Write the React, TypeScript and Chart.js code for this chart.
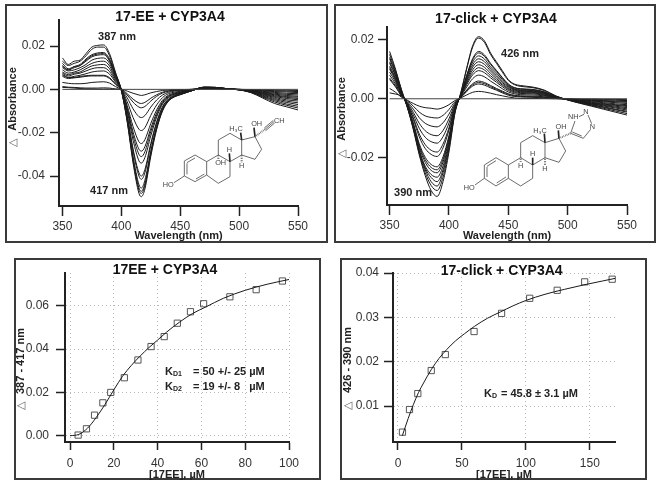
import React, { useEffect, useRef } from "react";
import { Chart, registerables } from "chart.js";

Chart.register(...registerables);

const FONT = "'Liberation Sans', Arial, sans-serif";
const DARK = "#222222";

// ---- Data: difference spectra, absorbance in thousandths ----
const eeWavelengths = [350, 355, 360, 365, 370, 375, 380, 385, 390, 395, 400, 405, 410, 415, 417, 420, 425, 430, 435, 440, 445, 450, 460, 470, 480, 490, 500, 510, 520, 530, 540, 550];
const eeSpectra = [
  [14.5, 11.5, 13, 13.5, 16.5, 19.5, 20.3, 20.5, 16.5, 8, -0.5, -15, -34, -48, -49.5, -46, -31, -18.5, -10, -5.5, -3.5, -2.5, -0.6, 1, 0.9, 0.3, -0.2, -1.5, -4, -6.5, -8, -9.5],
  [13, 11, 12, 13, 15.5, 18.5, 19.5, 19.5, 15.5, 7.5, -0.4, -14.5, -33, -46.5, -48, -44.5, -30, -18, -9.6, -5.3, -3.4, -2.4, -0.6, 1, 0.9, 0.3, -0.2, -1.4, -3.6, -5.8, -7.3, -8.6],
  [12, 9.5, 10.5, 11.5, 14, 16, 16.8, 17, 14, 7, -0.3, -14, -32, -45.5, -47, -43.5, -29.5, -17.5, -9.4, -5.2, -3.3, -2.3, -0.6, 1, 0.9, 0.3, -0.2, -1.3, -3.3, -5.2, -6.7, -7.8],
  [11, 9, 10.5, 11, 13.5, 15.5, 16.3, 16.5, 13.5, 6.8, -0.3, -13.5, -31, -44, -45.5, -42, -28.5, -17, -9, -5, -3.2, -2.2, -0.6, 0.9, 0.9, 0.3, -0.2, -1.2, -3, -4.7, -6, -7],
  [10.5, 9, 10, 11, 13, 15, 15.8, 16, 13, 6.4, -0.2, -12.5, -28.5, -40, -41.5, -38.5, -26, -15.5, -8.3, -4.6, -3, -2, -0.5, 0.9, 0.8, 0.3, -0.2, -1.1, -2.7, -4.2, -5.4, -6.2],
  [10, 8.5, 9, 10, 11.5, 13.5, 14.3, 14.5, 12, 5.8, -0.2, -12, -27.5, -38.5, -40, -37, -25, -15, -8, -4.4, -2.8, -1.9, -0.5, 0.9, 0.8, 0.2, -0.2, -1, -2.4, -3.7, -4.8, -5.4],
  [9, 7.5, 8, 9, 10.5, 12, 12.8, 13, 10.8, 5.2, -0.1, -10.2, -23.5, -33, -34, -31.5, -21.5, -12.8, -6.8, -3.8, -2.4, -1.7, -0.4, 0.8, 0.8, 0.2, -0.1, -0.9, -2.1, -3.3, -4.2, -4.8],
  [8, 6.8, 7.5, 8, 9.5, 10.8, 11.3, 11.5, 9.5, 4.6, -0.1, -9.3, -21.4, -30, -31, -28.8, -19.5, -11.8, -6.2, -3.4, -2.2, -1.5, -0.4, 0.7, 0.7, 0.2, -0.1, -0.8, -1.9, -2.9, -3.7, -4.2],
  [7.5, 6.2, 7, 7.5, 8.5, 9.5, 10, 10, 8.2, 4, 0, -8.5, -19.7, -27.6, -28.5, -26.5, -18, -10.8, -5.7, -3.1, -2, -1.4, -0.3, 0.7, 0.7, 0.2, -0.1, -0.7, -1.7, -2.5, -3.3, -3.6],
  [7, 5.5, 6, 6.5, 7.2, 8, 8.4, 8.5, 7, 3.4, 0, -7.5, -17.2, -24.2, -25, -23.2, -15.8, -9.5, -5, -2.7, -1.7, -1.2, -0.3, 0.7, 0.6, 0.2, -0.1, -0.6, -1.4, -2.2, -2.8, -3.2],
  [6.5, 5.5, 5.5, 6, 6.3, 6.5, 6.5, 6.5, 5.4, 2.6, 0, -5.7, -13, -18.4, -19, -17.7, -12, -7.2, -3.8, -2, -1.3, -0.9, -0.2, 0.6, 0.6, 0.2, -0.1, -0.5, -1.2, -1.8, -2.3, -2.6],
  [6, 5, 5.3, 5.6, 6, 6.2, 6.2, 6.2, 5, 2.4, 0, -3.9, -9, -12.6, -13, -12.1, -8.2, -4.9, -2.6, -1.4, -0.8, -0.6, -0.1, 0.5, 0.5, 0.1, 0, -0.4, -0.9, -1.4, -1.8, -2],
  [3.2, 2.8, 2.6, 2.6, 2.8, 3.2, 3.4, 3.5, 2.9, 1.3, 0, -2.6, -5.9, -8.2, -8.5, -7.9, -5.4, -3.2, -1.7, -0.9, -0.5, -0.3, 0, 0.4, 0.4, 0.1, 0, -0.3, -0.7, -1, -1.2, -1.5],
  [1.3, 1, 0.9, 0.7, 0.6, 0.6, 0.6, 0.7, 0.6, 0.2, 0, -2, -4.5, -6.3, -6.5, -6, -4.1, -2.5, -1.3, -0.7, -0.4, -0.2, 0, 0.3, 0.3, 0.1, 0, -0.2, -0.4, -0.6, -0.8, -1],
  [0.9, 0.8, 0.6, 0.4, 0.2, 0.2, 0.1, 0.1, 0.1, 0, 0, -0.8, -1.8, -2.6, -2.8, -2.5, -1.6, -1, -0.5, -0.3, -0.1, -0.1, 0, 0.2, 0.2, 0, 0, -0.1, -0.2, -0.3, -0.4, -0.5],
];

const clickWavelengths = [350, 355, 360, 365, 370, 375, 380, 385, 390, 395, 400, 405, 410, 415, 420, 425, 430, 435, 440, 445, 450, 455, 460, 470, 480, 490, 500, 510, 520, 530, 540, 550];
const clickSpectra = [
  [16, 10, 3, -3, -10.5, -19, -26, -31, -33, -28, -18, -5, 2, 10.5, 18, 21, 19.5, 15.5, 12.5, 9.5, 6.5, 5, 4.5, 4, 3, 1, -0.4, -1.5, -2.5, -3.5, -4.5, -5.5],
  [15, 9.5, 3, -3, -10, -18.5, -25, -29.3, -31, -26.5, -17, -4.7, 2, 10.2, 17.5, 20.5, 19, 15, 12, 9, 6.2, 4.8, 4.2, 3.8, 2.8, 0.9, -0.4, -1.4, -2.3, -3.2, -4.1, -5],
  [14, 9, 2.6, -2.8, -9.8, -18, -24, -28, -29.5, -25, -16, -4.4, 1.6, 8, 13.6, 16, 14.8, 12, 9.6, 7.2, 5, 3.8, 3.4, 3.2, 2.4, 0.8, -0.3, -1.3, -2.1, -2.9, -3.7, -4.5],
  [13.5, 8.6, 2.4, -2.7, -9.5, -17.5, -23.4, -26.6, -28, -24, -15.2, -4.2, 1.5, 7.8, 13.2, 15.5, 14.3, 11.6, 9.3, 7, 4.8, 3.7, 3.3, 3, 2.3, 0.7, -0.3, -1.2, -2, -2.7, -3.5, -4.2],
  [12.5, 8, 2.2, -2.6, -9.5, -17.5, -22.8, -25.6, -26.5, -22.7, -14.4, -4, 1.4, 7.3, 12.4, 14.5, 13.4, 10.8, 8.7, 6.5, 4.5, 3.4, 3, 2.8, 2.1, 0.7, -0.3, -1.1, -1.8, -2.4, -3.1, -3.8],
  [12, 7.6, 2.1, -2.5, -9, -16.5, -21.5, -24.2, -25, -21.4, -13.6, -3.8, 1.3, 6.8, 11.5, 13.5, 12.5, 10.1, 8, 6, 4.2, 3.2, 2.8, 2.6, 2, 0.6, -0.3, -1, -1.7, -2.2, -2.8, -3.4],
  [11, 7, 2, -2.4, -8.6, -15.9, -20.6, -23.2, -24, -20.5, -13, -3.6, 1.2, 6.3, 10.7, 12.5, 11.6, 9.4, 7.4, 5.5, 3.9, 3, 2.6, 2.4, 1.8, 0.5, -0.2, -0.9, -1.5, -2, -2.5, -3],
  [10.5, 6.7, 1.8, -2.3, -8.2, -15.2, -19.8, -22.2, -23, -19.6, -12.5, -3.5, 1.1, 5.8, 9.8, 11.5, 10.6, 8.6, 6.8, 5, 3.5, 2.7, 2.4, 2.2, 1.6, 0.5, -0.2, -0.8, -1.4, -1.8, -2.2, -2.6],
  [10, 6.3, 1.7, -2, -7, -12.9, -16.8, -18.8, -19.5, -16.6, -10.6, -3, 1, 5.3, 8.9, 10.5, 9.7, 7.8, 6.2, 4.6, 3.2, 2.4, 2.1, 2, 1.4, 0.4, -0.2, -0.7, -1.2, -1.6, -2, -2.3],
  [9, 5.7, 1.5, -1.9, -6.5, -11.9, -15.5, -17.4, -18, -15.3, -9.8, -2.8, 0.9, 4.8, 8.1, 9.5, 8.8, 7.1, 5.6, 4.1, 2.8, 2.1, 1.8, 1.7, 1.2, 0.4, -0.2, -0.6, -1, -1.3, -1.7, -2],
  [8, 5, 1.3, -1.6, -5.5, -10, -13, -14.5, -15, -12.8, -8.2, -2.3, 0.8, 4, 6.8, 8, 7.4, 6, 4.7, 3.4, 2.3, 1.7, 1.4, 1.3, 1, 0.3, -0.1, -0.5, -0.8, -1, -1.3, -1.6],
  [7, 4.4, 1.1, -1.3, -4.6, -8.3, -10.8, -12.1, -12.5, -10.7, -6.8, -1.9, 0.6, 3, 5.1, 6, 5.5, 4.5, 3.5, 2.6, 1.7, 1.2, 1, 0.9, 0.7, 0.2, -0.1, -0.4, -0.6, -0.8, -1, -1.2],
  [6.5, 4, 0.9, -1, -3.5, -6.4, -8.3, -9.2, -9.5, -8.1, -5.2, -1.5, 0.5, 2.8, 4.7, 5.5, 5.1, 4.1, 3.2, 2.3, 1.5, 1, 0.8, 0.7, 0.5, 0.1, -0.1, -0.3, -0.5, -0.6, -0.8, -0.9],
  [3.5, 2.2, 0.5, -0.7, -2.5, -4.5, -5.8, -6.3, -6.5, -5.6, -3.6, -1, 0.4, 2.5, 4.3, 5, 4.6, 3.7, 2.9, 2, 1.2, 0.8, 0.6, 0.5, 0.3, 0.1, -0.1, -0.2, -0.3, -0.4, -0.5, -0.6],
  [2, 1.6, 1, -0.5, -1.6, -2.5, -3, -3.2, -3.5, -3, -2, -0.6, 0.3, 1.3, 2.2, 2.5, 2.3, 1.9, 1.4, 1, 0.6, 0.3, 0.1, 0.1, 0.1, 0, 0, -0.1, -0.1, -0.2, -0.2, -0.3],
];

// ---- Data: titrations ----
const eeConc = [3.7, 7.5, 11.2, 15, 18.6, 24.8, 31, 37, 43, 49, 55, 61, 73, 85, 97];
const eeDelta = [0.0003, 0.0032, 0.0095, 0.0152, 0.02, 0.0268, 0.035, 0.0412, 0.0458, 0.052, 0.0573, 0.061, 0.0642, 0.0675, 0.0715];
const eeFitX = [0, 4, 8, 12, 16, 20, 24, 28, 32, 36, 40, 44, 50, 56, 62, 70, 80, 90, 100];
const eeFitY = [0, 0.0006, 0.0035, 0.0085, 0.0145, 0.0212, 0.0275, 0.0325, 0.0368, 0.0407, 0.0442, 0.0478, 0.0525, 0.0565, 0.0595, 0.0635, 0.0672, 0.07, 0.0722];

const clickConc = [3.5, 9, 15.5, 26, 37, 59.5, 81, 103, 124.5, 146, 167.5];
const clickDelta = [0.0041, 0.0092, 0.0128, 0.018, 0.0216, 0.0268, 0.0309, 0.0343, 0.0361, 0.038, 0.0386];
const clickFitX = [3.4, 8, 12, 16, 20, 26, 32, 38, 45, 52, 60, 70, 80, 90, 100, 115, 130, 145, 160, 170];
const clickFitY = [0.0033, 0.0072, 0.0103, 0.013, 0.0152, 0.0182, 0.0207, 0.0227, 0.0247, 0.0263, 0.028, 0.0298, 0.0312, 0.0326, 0.0338, 0.0352, 0.0363, 0.0373, 0.0382, 0.0388];

// ---- Tick labels ----
const wavelengthTicks = [350, 400, 450, 500, 550];
const eeSpectraYTicks = [-0.04, -0.02, 0, 0.02];
const clickSpectraYTicks = [-0.02, 0, 0.02];
const eeFitXTicks = [0, 20, 40, 60, 80, 100];
const eeFitYTicks = [0, 0.02, 0.04, 0.06];
const clickFitXTicks = [0, 50, 100, 150];
const clickFitYTicks = [0.01, 0.02, 0.03, 0.04];

type Label = { text: string; x: number; y: number; size?: number; bold?: boolean; color?: string; rotate?: boolean; align?: CanvasTextAlign };

type Layout = {
  canvas: [number, number, number, number]; // page x, y, width, height
  plot: [number, number, number, number]; // page left, top, right, bottom
  titleX: number;
  titleY: number;
  xTitleY: number;
  xTickLen: number;
  xTickPad: number;
  yTickLen: number;
  yTickPad: number;
};

function pageLabels(labels: Label[], layout: Layout) {
  return {
    id: "pageLabels",
    afterLayout(chart: any) {
      // Centre the chart title on the panel instead of on the layout box.
      const centre = layout.titleX - layout.canvas[0];
      if (chart.titleBlock) {
        chart.titleBlock.left = centre - 100;
        chart.titleBlock.right = centre + 100;
      }
    },
    afterDraw(chart: any) {
      const c = chart.ctx;
      labels.forEach((l) => {
        c.save();
        c.translate(l.x - layout.canvas[0], l.y - layout.canvas[1]);
        if (l.rotate) c.rotate(-Math.PI / 2);
        c.font = `${l.bold === false ? "" : "bold "}${l.size ?? 11}px ${FONT}`;
        c.fillStyle = l.color ?? DARK;
        c.textAlign = l.align ?? "center";
        c.textBaseline = "middle";
        c.fillText(l.text, 0, 0);
        c.restore();
      });
    },
  };
}

function makeConfig(opts: {
  datasets: any[];
  layout: Layout;
  title: string;
  xTitle: string;
  xRange: [number, number];
  yRange: [number, number];
  xTicks: number[];
  yTicks: number[];
  gridOn: boolean;
  labels: Label[];
}) {
  const { layout: L } = opts;
  const [cx, cy, cw, ch] = L.canvas;
  const [pl, pt, pr, pb] = L.plot;
  const titleSize = 14;
  const titleTop = L.titleY - cy - titleSize / 2;
  const titleBottom = pt - cy - titleSize - titleTop;
  const xBox = ch - (pb - cy);
  const xTitleBottom = cy + ch - L.xTitleY - 5.5;
  const axisCommon = {
    border: { color: DARK, width: 2, dash: opts.gridOn ? [1, 3] : [] },
  };
  return {
    type: "scatter" as const,
    data: { datasets: opts.datasets },
    options: {
      responsive: false,
      animation: false as const,
      layout: { padding: { left: 0, top: 0, bottom: 0, right: cx + cw - pr } },
      plugins: {
        legend: { display: false },
        tooltip: { enabled: false },
        title: {
          display: true,
          text: opts.title,
          color: "#111111",
          font: { family: FONT, size: titleSize, weight: "bold" as const, lineHeight: 1 },
          padding: { top: titleTop, bottom: titleBottom },
        },
      },
      scales: {
        x: {
          type: "linear" as const,
          min: opts.xRange[0],
          max: opts.xRange[1],
          afterFit: (s: any) => {
            s.height = xBox;
          },
          afterBuildTicks: (s: any) => {
            s.ticks = opts.xTicks.map((value) => ({ value }));
          },
          title: {
            display: true,
            text: opts.xTitle,
            color: DARK,
            font: { family: FONT, size: 11, weight: "bold" as const, lineHeight: 1 },
            padding: { top: 0, bottom: xTitleBottom },
          },
          ticks: { color: "#333333", font: { family: FONT, size: 12 }, padding: L.xTickPad, maxRotation: 0, callback: (v: any) => String(v) },
          grid: { display: true, drawOnChartArea: opts.gridOn, color: "#b8b8b8", tickColor: DARK, tickLength: L.xTickLen, tickWidth: 1.5, lineWidth: 1 },
          ...axisCommon,
        },
        y: {
          type: "linear" as const,
          min: opts.yRange[0],
          max: opts.yRange[1],
          afterFit: (s: any) => {
            s.width = pl - cx;
          },
          afterBuildTicks: (s: any) => {
            s.ticks = opts.yTicks.map((value) => ({ value }));
          },
          ticks: { color: "#333333", font: { family: FONT, size: 12 }, padding: L.yTickPad, callback: (v: any) => Number(v).toFixed(2) },
          grid: { display: true, drawOnChartArea: opts.gridOn, color: "#b8b8b8", tickColor: DARK, tickLength: L.yTickLen, tickWidth: 1.5, lineWidth: 1 },
          ...axisCommon,
        },
      },
    },
    plugins: [pageLabels(opts.labels, L)],
  };
}

function spectraDatasets(wavelengths: number[], spectra: number[][]) {
  const zero = {
    data: [
      { x: wavelengths[0], y: 0 },
      { x: wavelengths[wavelengths.length - 1], y: 0 },
    ],
    showLine: true,
    borderColor: "#444444",
    borderWidth: 1,
    pointRadius: 0,
  };
  return [
    zero,
    ...spectra.map((s) => ({
      data: s.map((v, i) => ({ x: wavelengths[i], y: v / 1000 })),
      showLine: true,
      borderColor: "#1a1a1a",
      borderWidth: 1,
      pointRadius: 0,
      cubicInterpolationMode: "monotone" as const,
    })),
  ];
}

function fitDatasets(cx: number[], cy: number[], fx: number[], fy: number[]) {
  return [
    {
      data: fx.map((x, i) => ({ x, y: fy[i] })),
      showLine: true,
      borderColor: "#1a1a1a",
      borderWidth: 1,
      pointRadius: 0,
      cubicInterpolationMode: "monotone" as const,
    },
    {
      data: cx.map((x, i) => ({ x, y: cy[i] })),
      showLine: false,
      clip: false,
      pointStyle: "rect",
      pointRadius: 4.4,
      pointBorderColor: "#555555",
      pointBorderWidth: 1,
      pointBackgroundColor: "rgba(255,255,255,0)",
    },
  ];
}

const layoutA: Layout = { canvas: [0, 0, 340, 243], plot: [59, 20, 298, 206], titleX: 170, titleY: 17.5, xTitleY: 236, xTickLen: 10, xTickPad: 3, yTickLen: 9, yTickPad: 5 };
const layoutB: Layout = { canvas: [331, 0, 330, 243], plot: [387, 27, 627, 205], titleX: 496, titleY: 19, xTitleY: 236, xTickLen: 10, xTickPad: 3, yTickLen: 9, yTickPad: 4 };
const layoutC: Layout = { canvas: [0, 246, 330, 234], plot: [65, 273, 289, 442], titleX: 165, titleY: 270, xTitleY: 475, xTickLen: 8, xTickPad: 6, yTickLen: 9, yTickPad: 7 };
const layoutD: Layout = { canvas: [342, 246, 319, 234], plot: [393, 273, 615, 442], titleX: 501.7, titleY: 271, xTitleY: 475, xTickLen: 8, xTickPad: 6, yTickLen: 9, yTickPad: 5 };

const triangle = "\u25B3";

const configs = [
  makeConfig({
    datasets: spectraDatasets(eeWavelengths, eeSpectra),
    layout: layoutA,
    title: "17-EE + CYP3A4",
    xTitle: "Wavelength (nm)",
    xRange: [347.1, 550],
    yRange: [-0.0538, 0.032],
    xTicks: wavelengthTicks,
    yTicks: eeSpectraYTicks,
    gridOn: false,
    labels: [
      { text: "387 nm", x: 117, y: 37 },
      { text: "417 nm", x: 109, y: 191 },
      { text: "Absorbance", x: 13, y: 99, rotate: true },
      { text: triangle, x: 13, y: 143, rotate: true, bold: false, size: 11, color: "#666666" },
    ],
  }),
  makeConfig({
    datasets: spectraDatasets(clickWavelengths, clickSpectra),
    layout: layoutB,
    title: "17-click + CYP3A4",
    xTitle: "Wavelength (nm)",
    xRange: [347.8, 550],
    yRange: [-0.0359, 0.02426],
    xTicks: wavelengthTicks,
    yTicks: clickSpectraYTicks,
    gridOn: false,
    labels: [
      { text: "426 nm", x: 520, y: 54 },
      { text: "390 nm", x: 413, y: 193 },
      { text: "Absorbance", x: 342, y: 109, rotate: true },
      { text: triangle, x: 342, y: 154, rotate: true, bold: false, size: 11, color: "#666666" },
    ],
  }),
  makeConfig({
    datasets: fitDatasets(eeConc, eeDelta, eeFitX, eeFitY),
    layout: layoutC,
    title: "17EE + CYP3A4",
    xTitle: "[17EE], \u00B5M",
    xRange: [-2.3, 100],
    yRange: [-0.0029, 0.0752],
    xTicks: eeFitXTicks,
    yTicks: eeFitYTicks,
    gridOn: true,
    labels: [
      { text: "K", x: 165, y: 371.5, align: "left" },
      { text: "D1", x: 173, y: 374.5, size: 7, align: "left" },
      { text: "= 50 +/- 25 \u00B5M", x: 193, y: 371.5, size: 11, align: "left" },
      { text: "K", x: 165, y: 386.5, align: "left" },
      { text: "D2", x: 173, y: 389.5, size: 7, align: "left" },
      { text: "= 19 +/- 8   \u00B5M", x: 193, y: 386.5, size: 11, align: "left" },
      { text: "387 - 417 nm", x: 21, y: 361, rotate: true },
      { text: triangle, x: 21, y: 406, rotate: true, bold: false, size: 11, color: "#666666" },
    ],
  }),
  makeConfig({
    datasets: fitDatasets(clickConc, clickDelta, clickFitX, clickFitY),
    layout: layoutD,
    title: "17-click + CYP3A4",
    xTitle: "[17EE], \u00B5M",
    xRange: [-3.9, 169.7],
    yRange: [0.00188, 0.04],
    xTicks: clickFitXTicks,
    yTicks: clickFitYTicks,
    gridOn: true,
    labels: [
      { text: "K", x: 484, y: 393.5, align: "left" },
      { text: "D", x: 492, y: 396.5, size: 7, align: "left" },
      { text: "= 45.8 \u00B1 3.1 \u00B5M", x: 501, y: 393.5, size: 11, align: "left" },
      { text: "426 - 390 nm", x: 348, y: 360, rotate: true },
      { text: triangle, x: 348, y: 406, rotate: true, bold: false, size: 11, color: "#666666" },
    ],
  }),
];

const panels = [
  [5, 4, 323, 239],
  [334, 4, 322, 239],
  [14, 258, 307, 222],
  [340, 258, 307, 222],
];

type Mol = {
  origin: [number, number];
  bonds: number[][];
  wedges: number[][];
  hashes: number[][];
  texts: [string, number, number][];
};

const molEE: Mol = {
  origin: [150, 80],
  bonds: [
    [103, 243, 135, 225], [135, 225, 170, 245], [170, 245, 170, 285], [170, 285, 135, 305], [135, 305, 103, 288], [103, 288, 103, 243],
    [111, 248, 135, 234], [163, 282, 138, 297], [111, 283, 111, 250],
    [103, 288, 72, 308],
    [170, 245, 205, 225], [205, 225, 240, 245], [240, 245, 240, 290], [240, 290, 205, 310], [205, 310, 170, 285],
    [205, 225, 205, 180], [205, 180, 240, 160], [240, 160, 275, 180], [275, 180, 275, 225], [275, 225, 240, 245],
    [275, 180, 315, 170], [315, 170, 335, 208], [335, 208, 315, 238], [315, 238, 275, 225],
    [345, 148, 372, 125], [347, 152, 374, 129], [343, 144, 370, 121],
  ],
  wedges: [[275, 180, 272, 158], [315, 170, 312, 143], [240, 245, 238, 220]],
  hashes: [[315, 170, 345, 148], [275, 225, 275, 248], [205, 225, 205, 240]],
  texts: [["HO", 55, 316], ["OH", 212, 250], ["H\u2083C", 258, 148], ["OH", 320, 133], ["CH", 388, 124], ["H", 238, 211], ["H", 275, 258]],
};

const molClick: Mol = {
  origin: [460, 105],
  bonds: [
    [73, 180, 108, 158], [108, 158, 145, 180], [145, 180, 145, 220], [145, 220, 108, 243], [108, 243, 73, 220], [73, 220, 73, 180],
    [81, 184, 108, 167], [138, 216, 110, 234], [81, 216, 81, 186],
    [73, 220, 45, 240],
    [145, 180, 182, 158], [182, 158, 218, 180], [218, 180, 218, 220], [218, 220, 182, 243], [182, 243, 145, 220],
    [182, 158, 182, 113], [182, 113, 218, 92], [218, 92, 255, 113], [255, 113, 255, 158], [255, 158, 218, 180],
    [255, 113, 297, 100], [297, 100, 317, 138], [317, 138, 297, 172], [297, 172, 255, 158],
    [332, 85, 345, 48], [357, 35, 372, 28], [384, 30, 395, 56], [392, 73, 370, 100], [370, 100, 332, 85], [365, 93, 337, 81],
  ],
  wedges: [[255, 113, 253, 86], [297, 100, 295, 76], [218, 180, 218, 158]],
  hashes: [[297, 100, 332, 85], [182, 158, 182, 172], [255, 158, 255, 182]],
  texts: [["HO", 28, 250], ["H\u2083C", 240, 77], ["OH", 303, 65], ["NH", 340, 35], ["N", 378, 22], ["N", 397, 65], ["H", 182, 183], ["H", 218, 148], ["H", 255, 193]],
};

function Molecule({ mol }: { mol: Mol }) {
  const c = "#555555";
  return (
    <g transform={`translate(${mol.origin[0]},${mol.origin[1]}) scale(0.3333)`}>
      {mol.bonds.map((b, i) => (
        <line key={i} x1={b[0]} y1={b[1]} x2={b[2]} y2={b[3]} stroke={c} strokeWidth={2.6} />
      ))}
      {mol.wedges.map((b, i) => (
        <line key={`w${i}`} x1={b[0]} y1={b[1]} x2={b[2]} y2={b[3]} stroke="#222222" strokeWidth={5} />
      ))}
      {mol.hashes.map((b, i) => (
        <line key={`h${i}`} x1={b[0]} y1={b[1]} x2={b[2]} y2={b[3]} stroke={c} strokeWidth={6} strokeDasharray="2 3" />
      ))}
      {mol.texts.map((t, i) => (
        <text key={`t${i}`} x={t[1]} y={t[2]} fontSize={22} fill="#444444" fontFamily={FONT} textAnchor="middle" dominantBaseline="middle">
          {t[0]}
        </text>
      ))}
    </g>
  );
}

function Panel({ config }: { config: any }) {
  const ref = useRef<HTMLCanvasElement>(null);
  const [x, y, w, h] = config.__layout.canvas;
  useEffect(() => {
    const chart = new Chart(ref.current as HTMLCanvasElement, config);
    return () => chart.destroy();
  }, [config]);
  return <canvas ref={ref} width={w} height={h} style={{ position: "absolute", left: x, top: y, width: w, height: h }} />;
}

[layoutA, layoutB, layoutC, layoutD].forEach((l, i) => {
  (configs[i] as any).__layout = l;
});

export default function App() {
  return (
    <div style={{ position: "absolute", left: 0, top: 0, width: 662, height: 486, background: "#ffffff", overflow: "hidden" }}>
      {panels.map((p, i) => (
        <div key={i} style={{ position: "absolute", left: p[0], top: p[1], width: p[2], height: p[3], boxSizing: "border-box", border: "2px solid #3a3a3a" }} />
      ))}
      {configs.map((c, i) => (
        <Panel key={i} config={c} />
      ))}
      <svg width={662} height={486} style={{ position: "absolute", left: 0, top: 0, pointerEvents: "none" }}>
        <Molecule mol={molEE} />
        <Molecule mol={molClick} />
      </svg>
    </div>
  );
}
